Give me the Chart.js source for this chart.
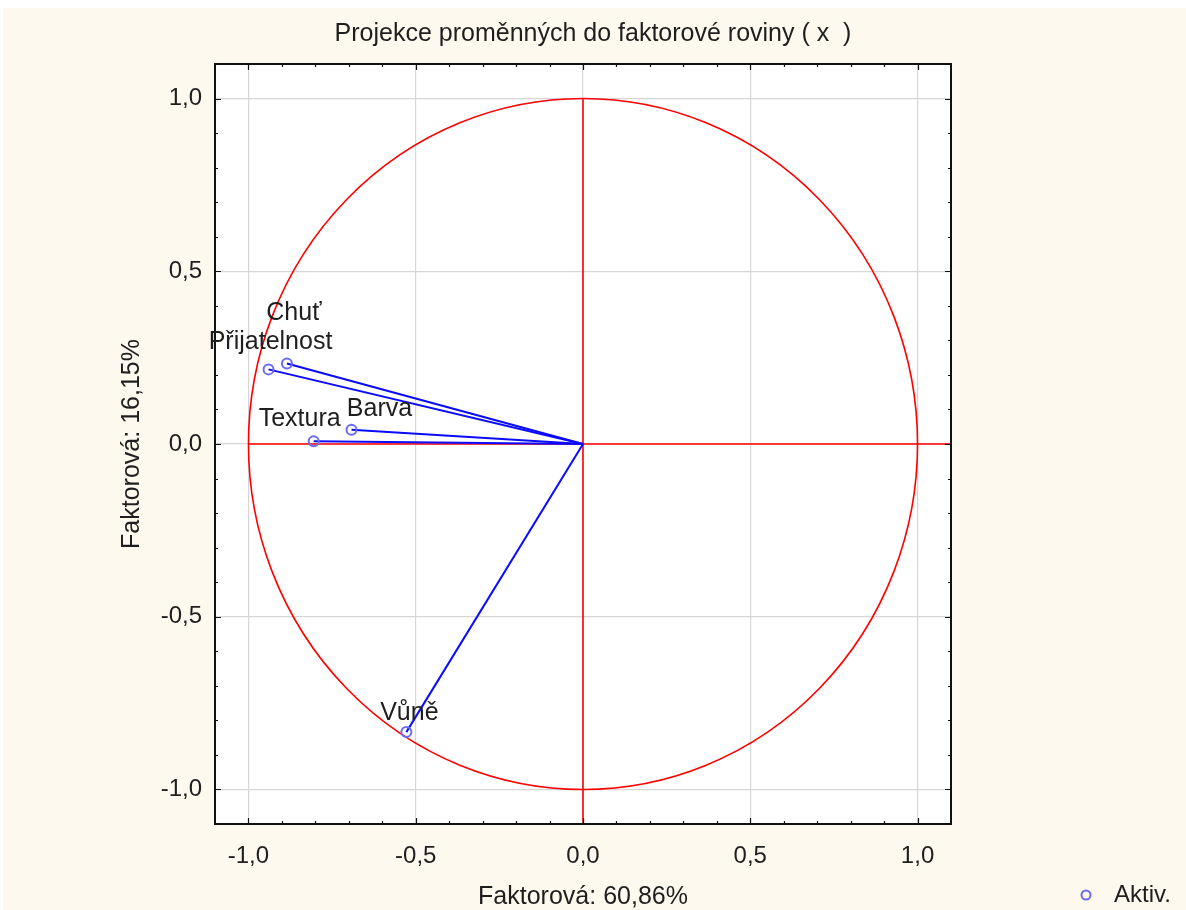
<!DOCTYPE html>
<html><head><meta charset="utf-8">
<script src="https://cdn.jsdelivr.net/npm/chart.js@4.4.1/dist/chart.umd.min.js"></script>
<style>html,body{margin:0;padding:0;background:#fff;overflow:hidden}#wrap{width:1186px;height:910px;position:relative}canvas{display:block}</style>
</head><body><div id="wrap"><canvas id="c" width="1186" height="910"></canvas></div>
<script>
const variables = ['Chuť', 'Přijatelnost', 'Barva', 'Textura', 'Vůně'];
const factor1 = [-0.885, -0.940, -0.692, -0.805, -0.528];
const factor2 = [0.233, 0.216, 0.041, 0.008, -0.834];
const tickValues = [-1.0, -0.5, 0.0, 0.5, 1.0];
const chartTitle = 'Projekce proměnných do faktorové roviny ( x  )';
const xTitle = 'Faktorová: 60,86%';
const yTitle = 'Faktorová: 16,15%';
const legendLabel = 'Aktiv.';
const labelOffsets = [[7, -50], [2, -27], [28, -21], [-14, -22], [3, -19]];

const FONT = "'Liberation Sans', Arial, sans-serif";
const TXT = '#1e1e1e';
const MARK = '#6a6af2';

const vectorSets = variables.map((v, i) => ({
  label: v,
  data: [{x: 0, y: 0}, {x: factor1[i], y: factor2[i]}],
  showLine: true,
  borderColor: '#0a0aff',
  borderWidth: 2,
  pointRadius: 0,
  pointHoverRadius: 0,
  fill: false,
  order: 2
}));
const markerSet = {
  label: legendLabel,
  data: variables.map((v, i) => ({x: factor1[i], y: factor2[i]})),
  showLine: false,
  pointStyle: 'circle',
  pointRadius: 5,
  pointBorderWidth: 2,
  borderColor: MARK,
  pointBorderColor: MARK,
  backgroundColor: 'rgba(0,0,0,0)',
  pointBackgroundColor: 'rgba(0,0,0,0)',
  order: 1
};

const fmt = v => (Math.round(v * 10) / 10).toFixed(1).replace('.', ',');

const decor = {
  id: 'decor',
  beforeDraw(chart) {
    const {ctx, chartArea: a} = chart;
    ctx.save();
    ctx.fillStyle = '#ffffff';
    ctx.fillRect(0, 0, chart.width, chart.height);
    ctx.fillStyle = '#fef9ee';
    ctx.fillRect(3, 8, chart.width - 3, chart.height - 8);
    ctx.fillStyle = '#ffffff';
    ctx.fillRect(a.left, a.top, a.right - a.left, a.bottom - a.top);
    ctx.restore();
  },
  beforeDatasetsDraw(chart) {
    const {ctx, chartArea: a, scales: {x, y}} = chart;
    const cx = x.getPixelForValue(0), cy = y.getPixelForValue(0);
    const rx = x.getPixelForValue(1) - cx, ry = cy - y.getPixelForValue(1);
    ctx.save();
    ctx.strokeStyle = '#ff0000';
    ctx.lineWidth = 1.6;
    ctx.beginPath();
    ctx.ellipse(cx, cy, rx, ry, 0, 0, Math.PI * 2);
    ctx.stroke();
    ctx.beginPath();
    ctx.moveTo(x.getPixelForValue(-1), cy);
    ctx.lineTo(a.right, cy);
    ctx.moveTo(cx, y.getPixelForValue(1));
    ctx.lineTo(cx, a.bottom);
    ctx.stroke();
    ctx.restore();
  },
  afterDatasetsDraw(chart) {
    const {ctx, chartArea: a, scales: {x, y}} = chart;
    ctx.save();
    ctx.strokeStyle = '#111';
    ctx.lineWidth = 1.2;
    ctx.beginPath();
    for (let k = -11; k <= 11; k++) {
      const v = k / 10;
      const len = (k % 5 === 0) ? 6 : 3;
      const px = Math.round(x.getPixelForValue(v)) + 0.5;
      const py = Math.round(y.getPixelForValue(v)) + 0.5;
      if (px > a.left + 1 && px < a.right - 1) {
        ctx.moveTo(px, a.bottom); ctx.lineTo(px, a.bottom - len);
        ctx.moveTo(px, a.top); ctx.lineTo(px, a.top + len);
      }
      if (py > a.top + 1 && py < a.bottom - 1) {
        ctx.moveTo(a.left, py); ctx.lineTo(a.left + len, py);
        ctx.moveTo(a.right, py); ctx.lineTo(a.right - len, py);
      }
    }
    ctx.stroke();
    ctx.lineWidth = 2;
    ctx.strokeRect(a.left, a.top, a.right - a.left, a.bottom - a.top);
    ctx.fillStyle = TXT;
    ctx.font = '25px ' + FONT;
    ctx.textAlign = 'center';
    ctx.textBaseline = 'middle';
    variables.forEach((v, i) => {
      const px = x.getPixelForValue(factor1[i]) + labelOffsets[i][0];
      const py = y.getPixelForValue(factor2[i]) + labelOffsets[i][1];
      ctx.fillText(v, px, py);
    });
    ctx.restore();
  },
  afterDraw(chart) {
    const {ctx} = chart;
    ctx.save();
    ctx.strokeStyle = MARK;
    ctx.lineWidth = 2;
    ctx.beginPath();
    ctx.arc(1086, 895, 4.5, 0, Math.PI * 2);
    ctx.stroke();
    ctx.fillStyle = TXT;
    ctx.font = '24px ' + FONT;
    ctx.textAlign = 'left';
    ctx.textBaseline = 'middle';
    ctx.fillText(legendLabel, 1114, 895);
    ctx.restore();
  }
};

const axisCommon = (titleText, titlePad) => ({
  type: 'linear',
  min: -1.1,
  max: 1.1,
  afterBuildTicks: s => { s.ticks = tickValues.map(v => ({value: v})); },
  ticks: {
    color: TXT,
    font: {family: FONT, size: 24},
    callback: v => fmt(v),
    autoSkip: false,
    maxRotation: 0
  },
  grid: {color: '#d6d6d6', lineWidth: 1.2, drawTicks: false},
  border: {display: false},
  title: {display: true, text: titleText, color: TXT, font: {family: FONT, size: 25}, padding: titlePad}
});

const xAxis = axisCommon(xTitle, {top: 0, bottom: -2});
xAxis.ticks.padding = 18;
xAxis.afterFit = s => { s.height = 86; };
const yAxis = axisCommon(yTitle, {top: 117, bottom: 0});
yAxis.ticks.padding = 13;
yAxis.afterFit = s => { s.width = 215; };
const rightSpacer = {
  type: 'linear',
  position: 'right',
  display: true,
  grid: {display: false, drawTicks: false},
  border: {display: false},
  ticks: {display: false},
  afterFit: s => { s.width = 235; }
};

new Chart(document.getElementById('c'), {
  type: 'scatter',
  data: {datasets: [...vectorSets, markerSet]},
  options: {
    responsive: false,
    animation: false,
    devicePixelRatio: 1,
    layout: {padding: 0},
    plugins: {
      legend: {display: false},
      tooltip: {enabled: false},
      title: {display: true, text: chartTitle, color: TXT, font: {family: FONT, size: 25, weight: 'normal'}, padding: {top: 19, bottom: 15}}
    },
    scales: {x: xAxis, y: yAxis, yr: rightSpacer}
  },
  plugins: [decor]
});
</script>
</body></html>
